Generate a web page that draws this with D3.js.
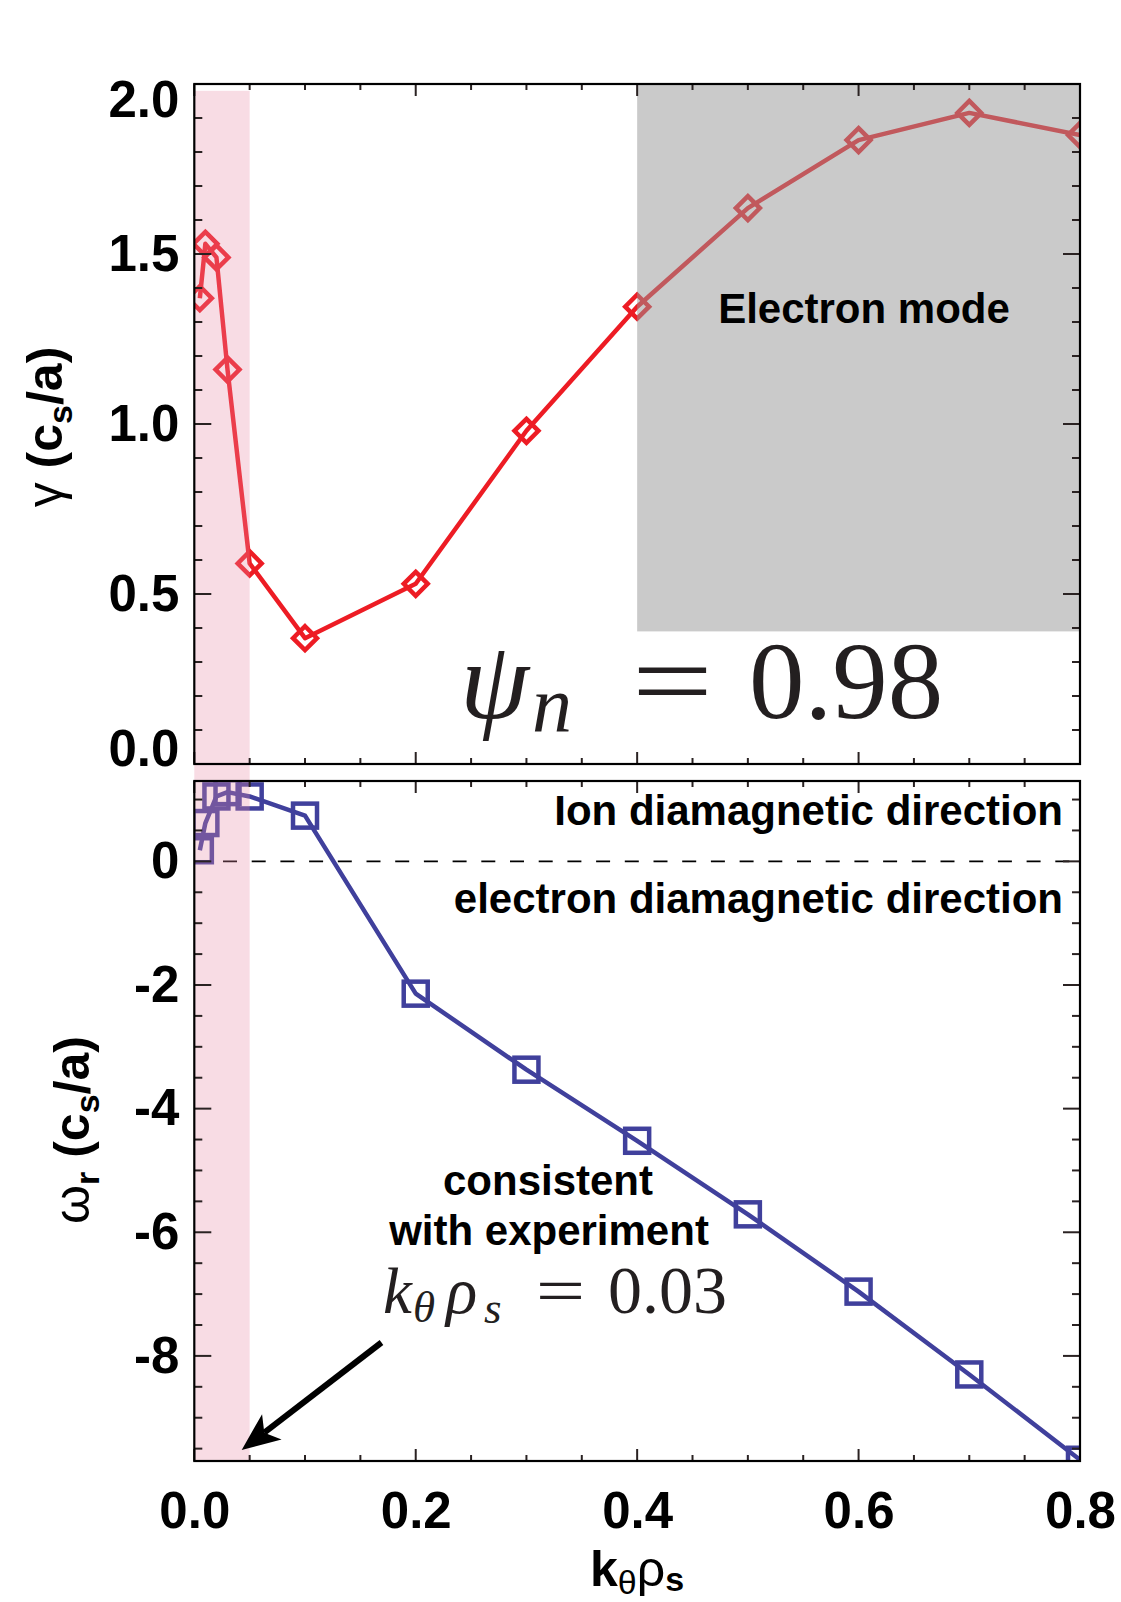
<!DOCTYPE html>
<html>
<head>
<meta charset="utf-8">
<script src="https://cdn.jsdelivr.net/npm/d3@7"></script>
<style>
  html, body { margin: 0; padding: 0; background: #fff; }
  svg { display: block; }
  text { font-family: "Liberation Sans", Arial, Helvetica, sans-serif; }
  text.serif, tspan.serif { font-family: "Liberation Serif", "Times New Roman", serif; }
</style>
</head>
<body>
<svg id="chart" width="1121" height="1602"></svg>
<script>
// ---------- data ----------
const kRho   = [0.005, 0.01, 0.02, 0.03, 0.05, 0.1, 0.2, 0.3, 0.4, 0.5, 0.6, 0.7, 0.8];
const gamma  = [1.37, 1.53, 1.49, 1.16, 0.59, 0.37, 0.53, 0.98, 1.345, 1.635, 1.835, 1.915, 1.85];
const omega  = [0.18, 0.62, 1.05, 1.12, 1.05, 0.74, -2.14, -3.37, -4.52, -5.71, -6.96, -8.30, -9.68];

const xTicks      = [0.0, 0.2, 0.4, 0.6, 0.8];
const xTickLabels = ["0.0", "0.2", "0.4", "0.6", "0.8"];
const gTicks      = [0.0, 0.5, 1.0, 1.5, 2.0];
const gTickLabels = ["0.0", "0.5", "1.0", "1.5", "2.0"];
const wTicks      = [-8, -6, -4, -2, 0];
const wTickLabels = ["-8", "-6", "-4", "-2", "0"];

const pinkBand  = [0.0, 0.05];   // k range "consistent with experiment"
const grayBand  = [0.4, 0.8];    // electron mode k range
const grayGammaFloor = 0.39;

// ---------- layout ----------
const L = 194.3, R = 1080;
const topP = {t: 84, b: 764};
const botP = {t: 781, b: 1461};

const svg = d3.select("#chart");
const x  = d3.scaleLinear().domain([0, 0.8]).range([L, R]);
const yG = d3.scaleLinear().domain([0, 2]).range([topP.b, topP.t]);
const yW = d3.scaleLinear().domain([-9.7, 1.3]).range([botP.b, botP.t]);

const RED = "#ed1c24", BLUE = "#40409c";
const LW = 4.5;

const defs = svg.append("defs");
defs.append("clipPath").attr("id", "clipTop").append("rect")
  .attr("x", L).attr("y", topP.t).attr("width", R - L).attr("height", topP.b - topP.t);
defs.append("clipPath").attr("id", "clipBot").append("rect")
  .attr("x", L).attr("y", botP.t).attr("width", R - L).attr("height", botP.b - botP.t);

// ---------- data marks ----------
const gTop = svg.append("g").attr("clip-path", "url(#clipTop)");
const lineG = d3.line().x((d, i) => x(kRho[i])).y(d => yG(d));
gTop.append("path").datum(gamma).attr("d", lineG)
  .attr("fill", "none").attr("stroke", RED).attr("stroke-width", LW).attr("stroke-linejoin", "round");
const dSym = d3.symbol().type(d3.symbolDiamond2).size(2 * 13.5 * 13.5);
gTop.selectAll("path.dm").data(gamma).join("path").attr("class", "dm")
  .attr("d", dSym)
  .attr("transform", (d, i) => `translate(${x(kRho[i])},${yG(d)})`)
  .attr("fill", "none").attr("stroke", RED).attr("stroke-width", LW);

const gBot = svg.append("g").attr("clip-path", "url(#clipBot)");
gBot.append("line").attr("x1", L).attr("x2", R).attr("y1", yW(0)).attr("y2", yW(0))
  .attr("stroke", "#000").attr("stroke-width", 1.6).attr("stroke-dasharray", "14 14.7");
const lineW = d3.line().x((d, i) => x(kRho[i])).y(d => yW(d));
gBot.append("path").datum(omega).attr("d", lineW)
  .attr("fill", "none").attr("stroke", BLUE).attr("stroke-width", LW).attr("stroke-linejoin", "round");
const sq = 24;
gBot.selectAll("rect.sq").data(omega).join("rect").attr("class", "sq")
  .attr("x", (d, i) => x(kRho[i]) - sq / 2).attr("y", d => yW(d) - sq / 2)
  .attr("width", sq).attr("height", sq)
  .attr("fill", "none").attr("stroke", BLUE).attr("stroke-width", LW);

// ---------- overlays ----------
svg.append("rect")
  .attr("x", x(pinkBand[0])).attr("width", x(pinkBand[1]) - x(pinkBand[0]))
  .attr("y", yG(1.98)).attr("height", botP.b - yG(1.98))
  .attr("fill", "#e88aa5").attr("opacity", 0.3);
svg.append("rect")
  .attr("x", x(grayBand[0])).attr("width", x(grayBand[1]) - x(grayBand[0]))
  .attr("y", yG(2)).attr("height", yG(grayGammaFloor) - yG(2))
  .attr("fill", "#969696").attr("opacity", 0.5);

// ---------- axes (ticks on all sides, inward) ----------
function ticksX(yPos, dir) {
  const maj = xTicks, mnr = d3.range(0, 0.8001, 0.05).filter(v => !maj.some(m => Math.abs(m - v) < 1e-6));
  const g = svg.append("g");
  g.selectAll("line.M").data(maj).join("line")
    .attr("x1", d => x(d)).attr("x2", d => x(d)).attr("y1", yPos).attr("y2", yPos + dir * 12);
  g.selectAll("line.m").data(mnr).join("line")
    .attr("x1", d => x(d)).attr("x2", d => x(d)).attr("y1", yPos).attr("y2", yPos + dir * 6);
  g.selectAll("line").attr("stroke", "#2a2222").attr("stroke-width", 2);
}
function ticksY(scale, maj, mnr) {
  const g = svg.append("g");
  [[L, 1], [R, -1]].forEach(([xp, dir]) => {
    g.selectAll(null).data(maj).join("line")
      .attr("x1", xp).attr("x2", xp + dir * 17).attr("y1", d => scale(d)).attr("y2", d => scale(d));
    g.selectAll(null).data(mnr).join("line")
      .attr("x1", xp).attr("x2", xp + dir * 8).attr("y1", d => scale(d)).attr("y2", d => scale(d));
  });
  g.selectAll("line").attr("stroke", "#2a2222").attr("stroke-width", 2);
}
ticksX(topP.t, 1); ticksX(topP.b, -1); ticksX(botP.t, 1); ticksX(botP.b, -1);
ticksY(yG, gTicks, d3.range(0, 2.0001, 0.1).filter(v => !gTicks.some(m => Math.abs(m - v) < 1e-6)));
ticksY(yW, wTicks, d3.range(-9.5, 1.01, 0.5).filter(v => !wTicks.some(m => Math.abs(m - v) < 1e-6)));

// frames
[topP, botP].forEach(p => svg.append("rect").attr("x", L).attr("y", p.t)
  .attr("width", R - L).attr("height", p.b - p.t)
  .attr("fill", "none").attr("stroke", "#000").attr("stroke-width", 2.2));

// tick labels via d3 axes
const axG = d3.axisLeft(yG).tickValues(gTicks).tickFormat((d, i) => gTickLabels[i]).tickSize(0).tickPadding(15);
const gAx = svg.append("g").attr("transform", `translate(${L},0)`).call(axG);
const axW = d3.axisLeft(yW).tickValues(wTicks).tickFormat((d, i) => wTickLabels[i]).tickSize(0).tickPadding(15);
const wAx = svg.append("g").attr("transform", `translate(${L},0)`).call(axW);
const axX = d3.axisBottom(x).tickValues(xTicks).tickFormat((d, i) => xTickLabels[i]).tickSize(0).tickPadding(31);
const xAx = svg.append("g").attr("transform", `translate(0,${botP.b})`).call(axX);
[gAx, wAx, xAx].forEach(a => {
  a.select(".domain").remove();
  a.selectAll("text").style("font-family", "'Liberation Sans', Arial, sans-serif")
    .attr("font-weight", "bold").attr("font-size", 51).attr("fill", "#000");
});
gAx.selectAll(".tick").filter(d => d === 2.0).select("text").attr("y", 16);
gAx.selectAll(".tick").filter(d => d === 0.0).select("text").attr("y", -15);

// ---------- axis titles ----------
const yt1 = svg.append("text").attr("transform", "translate(61.5,427) rotate(-90)")
  .attr("text-anchor", "middle").attr("font-size", 50).attr("font-weight", "bold");
yt1.append("tspan").attr("font-weight", "normal").text("γ");
yt1.append("tspan").text(" (c");
yt1.append("tspan").attr("font-size", 34).attr("dy", 10).text("s");
yt1.append("tspan").attr("dy", -10).text("/a)");

const yt2 = svg.append("text").attr("transform", "translate(89,1130) rotate(-90)")
  .attr("text-anchor", "middle").attr("font-size", 50).attr("font-weight", "bold");
yt2.append("tspan").attr("font-weight", "normal").text("ω");
yt2.append("tspan").attr("font-size", 34).attr("dy", 10).text("r");
yt2.append("tspan").attr("dy", -10).text(" (c");
yt2.append("tspan").attr("font-size", 34).attr("dy", 10).text("s");
yt2.append("tspan").attr("dy", -10).text("/a)");

const xt = svg.append("text").attr("x", 637).attr("y", 1586)
  .attr("text-anchor", "middle").attr("font-size", 50).attr("font-weight", "bold");
xt.append("tspan").text("k");
xt.append("tspan").attr("font-weight", "normal").attr("font-size", 34).attr("dy", 8).text("θ");
xt.append("tspan").attr("font-weight", "normal").attr("dy", -8).text("ρ");
xt.append("tspan").attr("font-size", 34).attr("dy", 5).text("s");

// ---------- annotations ----------
svg.append("text").attr("x", 864).attr("y", 323).attr("text-anchor", "middle")
  .attr("font-size", 42).attr("font-weight", "bold").text("Electron mode");
svg.append("text").attr("x", 1063).attr("y", 825).attr("text-anchor", "end")
  .attr("font-size", 42).attr("font-weight", "bold").text("Ion diamagnetic direction");
svg.append("text").attr("x", 1063).attr("y", 913).attr("text-anchor", "end")
  .attr("font-size", 42).attr("font-weight", "bold").text("electron diamagnetic direction");
svg.append("text").attr("x", 548).attr("y", 1195).attr("text-anchor", "middle")
  .attr("font-size", 42).attr("font-weight", "bold").text("consistent");
svg.append("text").attr("x", 549).attr("y", 1245).attr("text-anchor", "middle")
  .attr("font-size", 42).attr("font-weight", "bold").text("with experiment");

const ink = "#231f20";
function serifText(xp, yp, size, str, italic, anchor, sx) {
  const t = svg.append("text").attr("class", "serif")
    .attr("font-size", size).attr("fill", ink)
    .attr("font-style", italic ? "italic" : "normal")
    .attr("text-anchor", anchor || "start").text(str);
  if (sx) t.attr("transform", `translate(${xp},${yp}) scale(${sx},1)`);
  else t.attr("x", xp).attr("y", yp);
  return t;
}
// psi_n = 0.98
serifText(460, 718, 111, "ψ", true);
serifText(532, 731, 80, "n", true);
serifText(672.5, 718, 111, "=", false, "middle", 1.3);
serifText(749, 718, 111, "0.98", false);

// k_theta rho_s = 0.03
serifText(383, 1313, 65, "k", true);
serifText(413, 1322, 45, "θ", true);
serifText(446, 1313, 65, "ρ", true);
serifText(484, 1323, 45, "s", true);
serifText(560.5, 1313, 65, "=", false, "middle", 1.35);
serifText(608, 1313, 68, "0.03", false);

// arrow
(function () {
  const S = [381.5, 1342.5], T = [241.7, 1450];
  const dx = T[0] - S[0], dy = T[1] - S[1], len = Math.hypot(dx, dy);
  const u = [dx / len, dy / len], n = [-u[1], u[0]];
  const Lh = 38, w = 16;
  const B = [T[0] - u[0] * Lh, T[1] - u[1] * Lh];
  const notch = [T[0] - u[0] * Lh * 0.75, T[1] - u[1] * Lh * 0.75];
  svg.append("line").attr("x1", S[0]).attr("y1", S[1]).attr("x2", notch[0]).attr("y2", notch[1])
    .attr("stroke", "#000").attr("stroke-width", 6);
  svg.append("path").attr("d",
    `M${T[0]},${T[1]} L${B[0] + n[0] * w},${B[1] + n[1] * w} L${notch[0]},${notch[1]} L${B[0] - n[0] * w},${B[1] - n[1] * w} Z`)
    .attr("fill", "#000");
})();
</script>
</body>
</html>
